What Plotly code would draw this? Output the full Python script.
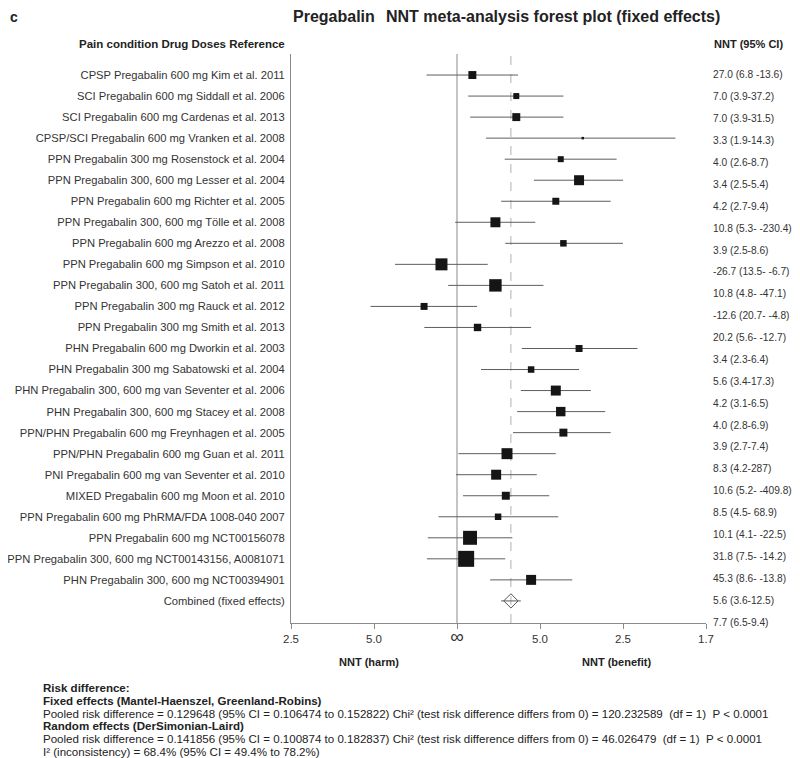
import math

import plotly.graph_objects as go

# study labels, top to bottom (last row = pooled estimate)
labels = [
    "CPSP Pregabalin 600 mg Kim et al. 2011",
    "SCI Pregabalin 600 mg Siddall et al. 2006",
    "SCI Pregabalin 600 mg Cardenas et al. 2013",
    "CPSP/SCI Pregabalin 600 mg Vranken et al. 2008",
    "PPN Pregabalin 300 mg Rosenstock et al. 2004",
    "PPN Pregabalin 300, 600 mg Lesser et al. 2004",
    "PPN Pregabalin 600 mg Richter et al. 2005",
    "PPN Pregabalin 300, 600 mg Tölle et al. 2008",
    "PPN Pregabalin 600 mg Arezzo et al. 2008",
    "PPN Pregabalin 600 mg Simpson et al. 2010",
    "PPN Pregabalin 300, 600 mg Satoh et al. 2011",
    "PPN Pregabalin 300 mg Rauck et al. 2012",
    "PPN Pregabalin 300 mg Smith et al. 2013",
    "PHN Pregabalin 600 mg Dworkin et al. 2003",
    "PHN Pregabalin 300 mg Sabatowski et al. 2004",
    "PHN Pregabalin 300, 600 mg van Seventer et al. 2006",
    "PHN Pregabalin 300, 600 mg Stacey et al. 2008",
    "PPN/PHN Pregabalin 600 mg Freynhagen et al. 2005",
    "PPN/PHN Pregabalin 600 mg Guan et al. 2011",
    "PNI Pregabalin 600 mg van Seventer et al. 2010",
    "MIXED Pregabalin 600 mg Moon et al. 2010",
    "PPN Pregabalin 600 mg PhRMA/FDA 1008-040 2007",
    "PPN Pregabalin 600 mg NCT00156078",
    "PPN Pregabalin 300, 600 mg NCT00143156, A0081071",
    "PHN Pregabalin 300, 600 mg NCT00394901",
    "Combined (fixed effects)",
]

# NNT point estimate and 95% CI ends (negative = harm)
nnt = [27.0, 7.0, 7.0, 3.3, 4.0, 3.4, 4.2, 10.8, 3.9, -26.7, 10.8, -12.6, 20.2,
       3.4, 5.6, 4.2, 4.0, 3.9, 8.3, 10.6, 8.5, 10.1, 31.8, 45.3, 5.6, 7.7]
nnt_lo = [6.8, 3.9, 3.9, 1.9, 2.6, 2.5, 2.7, 5.3, 2.5, 13.5, 4.8, 20.7, 5.6,
          2.3, 3.4, 3.1, 2.8, 2.7, 4.2, 5.2, 4.5, 4.1, 7.5, 8.6, 3.6, 6.5]
nnt_hi = [-13.6, 37.2, 31.5, 14.3, 8.7, 5.4, 9.4, -230.4, 8.6, -6.7, -47.1, -4.8, -12.7,
          6.4, 17.3, 6.5, 6.9, 7.4, 287, -409.8, 68.9, -22.5, -14.2, -13.8, 12.5, 9.4]

# right-hand column as printed
nnt_text = [
    "27.0 (6.8 -13.6)", "7.0 (3.9-37.2)", "7.0 (3.9-31.5)", "3.3 (1.9-14.3)",
    "4.0 (2.6-8.7)", "3.4 (2.5-5.4)", "4.2 (2.7-9.4)", "10.8 (5.3- -230.4)",
    "3.9 (2.5-8.6)", "-26.7 (13.5- -6.7)", "10.8 (4.8- -47.1)", "-12.6 (20.7- -4.8)",
    "20.2 (5.6- -12.7)", "3.4 (2.3-6.4)", "5.6 (3.4-17.3)", "4.2 (3.1-6.5)",
    "4.0 (2.8-6.9)", "3.9 (2.7-7.4)", "8.3 (4.2-287)", "10.6 (5.2- -409.8)",
    "8.5 (4.5- 68.9)", "10.1 (4.1- -22.5)", "31.8 (7.5- -14.2)", "45.3 (8.6- -13.8)",
    "5.6 (3.6-12.5)", "7.7 (6.5-9.4)",
]

# study weights (%)
weights = [3.0, 1.7, 3.0, 0.2, 1.7, 4.7, 2.3, 4.7, 2.0, 6.8, 7.3, 2.3, 2.6,
           2.3, 2.0, 4.7, 4.2, 3.0, 5.7, 4.7, 3.0, 2.0, 9.2, 12.1, 4.7]

x_ticks = [-0.4, -0.2, 0.0, 0.2, 0.4, 0.6]

footer = [
    "<b>Risk difference:</b>",
    "<b>Fixed effects (Mantel-Haenszel, Greenland-Robins)</b>",
    "Pooled risk difference = 0.129648 (95% CI = 0.106474 to 0.152822) Chi² (test risk difference differs from 0) = 120.232589  (df = 1)  P &lt; 0.0001",
    "<b>Random effects (DerSimonian-Laird)</b>",
    "Pooled risk difference = 0.141856 (95% CI = 0.100874 to 0.182837) Chi² (test risk difference differs from 0) = 46.026479  (df = 1)  P &lt; 0.0001",
    "I² (inconsistency) = 68.4% (95% CI = 49.4% to 78.2%)",
]

# page geometry (the page body adds an 8px offset)
PAGE_W, PAGE_H, OFF = 800, 758, 8
L, R, T, B = 291, 706, 54, 623


def px(x):
    return (x - L) / (R - L)


def py(y):
    return (B - y) / (B - T)


rows = list(range(1, len(labels) + 1))
rd = [1 / v for v in nnt]
rd_a = [1 / v for v in nnt_lo]
rd_b = [1 / v for v in nnt_hi]

ci_x, ci_y = [], []
for a, b, r in zip(rd_a, rd_b, rows):
    ci_x += [a, b, None]
    ci_y += [r, r, None]

fig = go.Figure()
fig.add_trace(go.Scatter(
    x=ci_x, y=ci_y, mode="lines",
    line=dict(color="#5e5e5e", width=1), hoverinfo="skip",
))
fig.add_trace(go.Scatter(
    x=rd[:-1], y=rows[:-1], mode="markers",
    marker=dict(symbol="square", color="#151515", opacity=1,
                size=[max(2.5, 4.6 * math.sqrt(w)) for w in weights],
                line=dict(width=0)),
))
fig.add_trace(go.Scatter(
    x=[rd[-1]], y=[rows[-1]], mode="markers",
    marker=dict(symbol="diamond-open", color="#555", size=11, opacity=1,
                line=dict(width=1)),
))

fig.add_shape(type="line", x0=0, x1=0, y0=0, y1=1, xref="x", yref="paper",
              line=dict(color="#8a8a8a", width=1), layer="below")
fig.add_shape(type="line", x0=rd[-1], x1=rd[-1], y0=0, y1=1, xref="x", yref="paper",
              line=dict(color="#b0b0b0", width=1, dash="dash"), layer="below")


def tick_text(v):
    if v == 0:
        return "<span style='font-size:19px'>∞</span>"
    return f"{1 / abs(v):.1f}"


anns = []
# title
anns.append(dict(x=px(8), y=py(17), text="<b>c</b>", xanchor="left",
                 font=dict(size=14, color="#222")))
anns.append(dict(x=px(291), y=py(17), text="<b>Pregabalin</b>", xanchor="left",
                 font=dict(size=16, color="#222")))
anns.append(dict(x=px(384), y=py(17), text="<b>NNT meta-analysis forest plot (fixed effects)</b>",
                 xanchor="left", font=dict(size=16, color="#222")))
# column headers
anns.append(dict(x=px(287), y=py(44), text="<b>Pain condition Drug Doses Reference</b>",
                 xanchor="right", font=dict(size=11.5, color="#222")))
anns.append(dict(x=px(712), y=py(44), text="<b>NNT (95% CI)</b>",
                 xanchor="left", font=dict(size=11, color="#222")))
# NNT column (printed with slightly wider row pitch than the plot rows)
for i, t in enumerate(nnt_text):
    anns.append(dict(x=px(711), y=py(75 + i * 21.88), text=t, xanchor="left",
                     font=dict(size=10.2, color="#333")))
# axis side labels
anns.append(dict(x=px(337), y=py(662), text="<b>NNT (harm)</b>",
                 font=dict(size=11, color="#222")))
anns.append(dict(x=px(653), y=py(662), text="<b>NNT (benefit)</b>",
                 font=dict(size=11, color="#222")))
# footer statistics
for i, t in enumerate(footer):
    anns.append(dict(x=px(41), y=py(688 + i * 12.8), text=t, xanchor="left",
                     font=dict(size=11.55, color="#222")))

for a in anns:
    a.update(xref="paper", yref="paper", showarrow=False, yanchor="middle")

fig.update_layout(
    template="none",
    width=PAGE_W - OFF, height=PAGE_H - OFF,
    margin=dict(l=L - OFF, r=PAGE_W - R, t=T - OFF, b=PAGE_H - B, pad=0),
    paper_bgcolor="white", plot_bgcolor="white",
    showlegend=False,
    font=dict(family="Liberation Sans, Arial, sans-serif", color="#333"),
    annotations=anns,
)
fig.update_xaxes(
    range=[x_ticks[0], x_ticks[-1]], tickvals=x_ticks,
    ticktext=[tick_text(v) for v in x_ticks], automargin=False,
    showline=True, linecolor="#8a8a8a", linewidth=1,
    ticks="outside", ticklen=5, tickcolor="#8a8a8a", tickwidth=1,
    showgrid=False, zeroline=False, tickfont=dict(size=11.5, color="#333"),
)
fig.update_yaxes(
    range=[27.05, 0], tickvals=rows, ticktext=labels, automargin=False,
    showline=True, linecolor="#8a8a8a", linewidth=1,
    ticks="", ticklabelstandoff=3, showgrid=False, zeroline=False,
    tickfont=dict(size=11.2, color="#333"),
)

fig.write_html("out.html")
